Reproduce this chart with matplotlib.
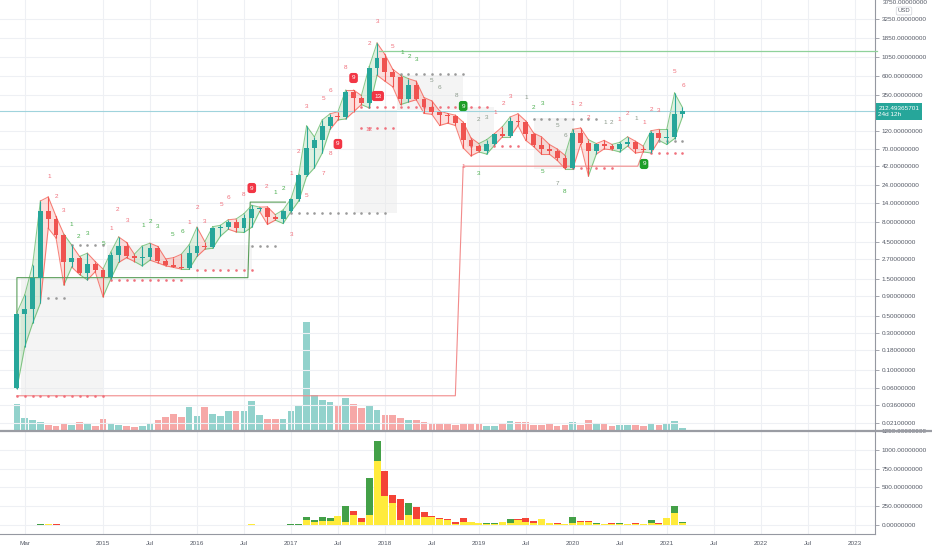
import matplotlib
matplotlib.use('Agg')
import matplotlib.pyplot as plt
import numpy as np
from matplotlib.ticker import FixedLocator, FuncFormatter, NullLocator
from matplotlib.transforms import blended_transform_factory
from matplotlib.patches import Rectangle
from matplotlib.lines import Line2D

plt.rcParams['font.family'] = ['Liberation Sans', 'DejaVu Sans']

# ---------------- data (monthly candles, Feb 2014 .. Mar 2021) ----------------
open_ = [0.059, 0.53, 0.61, 1.55, 11.1, 8.8, 5.4, 2.45, 2.77, 1.78,
         2.32, 1.94, 1.58, 3.03, 3.95, 2.94, 2.77, 2.86, 3.73, 2.54,
         2.26, 2.12, 2.06, 3.21, 3.95, 3.84, 6.74, 6.95, 8.05, 6.74,
         9.06, 11.8, 12.2, 9.33, 8.80, 11.15, 15.9, 32.4, 72, 91,
         138, 180, 178, 377, 316, 272, 768, 1033, 682, 588,
         307, 464, 307, 242, 208, 190, 185, 151, 91, 76,
         66, 81, 109, 103, 160, 155, 109, 78.5, 70, 66,
         53.5, 40.3, 112, 83.5, 66, 80, 76, 70, 80, 86,
         70, 68, 112, 97, 100, 197]
high = [0.55, 0.93, 2.25, 15.0, 16.9, 9.5, 5.6, 4.07, 2.9, 3.2,
        2.5, 2.0, 3.3, 5.17, 4.4, 3.1, 3.95, 4.3, 3.9, 2.7,
        2.8, 3.1, 4.1, 6.9, 4.5, 7.0, 7.3, 8.6, 8.8, 10.3,
        13.2, 12.5, 12.6, 10.0, 11.5, 16.0, 33, 138, 100, 165,
        198, 210, 400, 400, 340, 800, 1608, 1150, 740, 620,
        560, 520, 320, 290, 215, 200, 190, 155, 97, 82,
        92, 110, 135, 180, 198, 160, 112, 100, 80, 70,
        58, 125, 130, 92, 82, 90, 80, 85, 100, 88,
        76, 120, 125, 125, 366, 240]
low = [0.058, 0.2, 0.40, 0.73, 6.7, 5.0, 1.25, 2.12, 1.7, 1.45,
       1.85, 0.88, 1.5, 2.43, 2.8, 2.5, 2.2, 2.6, 2.4, 2.2,
       2.1, 2.0, 2.0, 2.9, 3.6, 3.7, 5.3, 6.5, 6.0, 5.9,
       6.9, 11.0, 7.5, 8.5, 7.7, 10.9, 15, 31, 40, 62,
       125, 165, 170, 210, 260, 235, 620, 520, 440, 260,
       280, 300, 200, 195, 140, 150, 140, 72, 57, 64,
       60, 78, 100, 100, 140, 90, 75, 60, 60, 50,
       39, 39, 80, 31.4, 60, 70, 68, 64, 76, 62,
       64, 62, 90, 80, 95, 180]
close = [0.53, 0.61, 1.55, 11.1, 8.8, 5.4, 2.45, 2.77, 1.78, 2.32,
         1.94, 1.58, 3.03, 3.95, 2.94, 2.77, 2.86, 3.73, 2.54, 2.26,
         2.12, 2.06, 3.21, 3.95, 3.84, 6.74, 6.95, 8.05, 6.74, 9.06,
         11.8, 12.2, 9.33, 8.80, 11.15, 15.9, 32.4, 72, 91, 138,
         180, 178, 377, 316, 272, 768, 1033, 682, 588, 307,
         464, 307, 242, 208, 190, 185, 151, 91, 76, 66,
         81, 109, 103, 160, 155, 109, 78.5, 70, 66, 53.5,
         40.3, 112, 83.5, 66, 80, 76, 70, 80, 86, 70,
         68, 112, 97, 100, 197, 212.49]
volume = [26, 12, 10, 8, 5, 4, 6, 5, 8, 6,
          4, 11, 6, 5, 4, 3, 4, 7, 10, 13,
          16, 13, 23, 14, 23, 16, 14, 19, 19, 19,
          29, 15, 11, 11, 11, 19, 25, 108, 35, 30,
          28, 24, 32, 26, 22, 25, 20, 15, 15, 12,
          10, 10, 8, 7, 7, 6, 5, 6, 7, 6,
          4, 4, 7, 9, 8, 8, 5, 5, 6, 4,
          5, 8, 5, 10, 7, 7, 4, 5, 5, 5,
          4, 6, 5, 7, 9, 2]
# lower pane: yellow base + coloured (red / green) part
lower_base = [3, 3, 3, 5, 12, 3, 3, 3, 3, 3,
              3, 3, 3, 3, 3, 3, 3, 3, 3, 3,
              3, 3, 3, 3, 3, 3, 3, 3, 3, 3,
              8, 3, 3, 3, 3, 5, 5, 67, 44, 53,
              53, 120, 44, 133, 44, 133, 857, 386, 289, 67,
              133, 75, 102, 102, 80, 67, 10, 44, 36, 22,
              18, 18, 44, 22, 67, 44, 22, 75, 22, 18,
              9, 31, 44, 44, 18, 18, 18, 18, 13, 18,
              13, 22, 18, 89, 164, 22]
lower_top = [0, 0, 0, 8, 0, 10, 0, 0, 0, 0,
             0, 0, 0, 0, 0, 0, 0, 0, 0, 0,
             0, 0, 0, 0, 0, 0, 0, 0, 0, 0,
             0, 0, 0, 0, 0, 8, 12, 35, 23, 49,
             40, 0, 209, 54, 45, 489, 262, 338, 111, 275,
             165, 169, 71, 22, 18, 13, 34, 54, 8, 9,
             13, 13, 0, 53, 17, 49, 31, 9, 0, 9,
             9, 76, 14, 14, 9, 0, 4, 4, 0, 13,
             0, 45, 9, 0, 94, 18]

tick_idx = [1, 11, 17, 23, 29, 35, 41, 47, 53, 59, 65, 71, 77, 83, 89, 95, 101, 107]
tick_lab = ['Mar', '2015', 'Jul', '2016', 'Jul', '2017', 'Jul', '2018', 'Jul', '2019',
            'Jul', '2020', 'Jul', '2021', 'Jul', '2022', 'Jul', '2023']
price_ticks = [0.021, 0.036, 0.06, 0.1, 0.18, 0.3, 0.5, 0.9, 1.5, 2.7, 4.5, 8, 14, 24,
               42, 70, 120, 350, 600, 1050, 1850, 3250]
lower_ticks = [0, 250, 500, 750, 1000, 1250]
last_price = 212.49365701

# TD sequential counts (month position, price position, text, colour r/g/k)
td_m = [4.1, 5.1, 5.9, 7.0, 7.9, 9.0, 11.0, 12.0, 12.9, 14.1, 16.1, 17.1, 18.0, 19.9, 21.1,
        22.0, 23.0, 24.0, 26.1, 27.0, 29.0, 31.9, 33.0, 34.0, 35.1, 35.1, 36.0, 37.0, 37.0,
        39.1, 39.1, 40.1, 40.1, 42.0, 45.0, 45.0, 46.1, 48.0, 49.2, 50.1, 51.1, 53.0, 54.0,
        56.1, 59.0, 60.0, 61.1, 62.1, 63.1, 65.0, 66.0, 67.1, 69.0, 70.0, 67.1, 69.0, 70.0,
        71.0, 72.0, 73.0, 75.1, 76.0, 77.0, 78.0, 79.1, 80.1, 81.0, 82.0, 84.0, 85.1, 57.0, 59.0]
td_p = [31.4, 16.9, 11.15, 7.58, 5.17, 5.81, 4.2, 6.55, 11.5, 8.53, 7.16, 8.29, 6.95, 5.48, 5.99,
        7.82, 12.5, 8.05, 13.7, 16.4, 18.4, 22.7, 19, 22, 5.64, 34.3, 63.9, 17.4, 249,
        34.3, 307, 60.3, 389, 768, 126, 1608, 2995, 1430, 1197, 1063, 973, 538, 425,
        345, 165, 175, 208, 272, 335, 316, 235, 265, 138, 103, 35.4, 24.8, 20.1,
        272, 257, 180, 155, 155, 165, 197, 170, 151, 228, 221, 682, 451, 42.2, 34.3]
td_t = ['1', '2', '3', '1', '2', '3', '5', '1', '2', '3', '1', '2', '3', '5', '6',
        '1', '2', '3', '5', '6', '8', '2', '1', '2', '3', '1', '2', '5', '3',
        '7', '5', '8', '6', '8', '12', '2', '3', '5', '1', '2', '3', '5', '6',
        '8', '2', '3', '1', '2', '3', '1', '2', '3', '5', '6', '5', '7', '8',
        '1', '2', '2', '1', '2', '1', '2', '1', '1', '2', '3', '5', '6', '1', '3']
td_c = ('r r r g g g g r r r g g g g g r r r r r r r g g r r r r r r r r r r r r r r '
        'g g g k k k k k r r r k g g k k g k g r r r k k r r k r r r r r r g').split()
box_m = [30.0, 41.0, 43.0, 46.1, 57.0, 80.1]
box_p = [22, 81, 571, 335, 249, 44.8]
box_t = ['9', '9', '9', '13', '9', '9']
box_c = ['r', 'r', 'r', 'r', 'g', 'g']

# shaded setup ranges (start month, end month, low, high)
zones = [(0.5, 11, 0.047, 1.55), (11.5, 30, 1.94, 4.1), (43, 48.5, 10.4, 221),
         (48.5, 57, 221, 624), (57.5, 61, 74, 242), (66, 71, 38.6, 175)]
# dotted TD levels (start, end, price, colour)
dots = [(7, 11, 4.07, 'k'), (4, 6, 0.85, 'k'), (0, 11, 0.047, 'r'), (12, 21, 1.45, 'r'),
        (23, 30, 1.94, 'r'), (30, 33, 3.95, 'k'), (34, 47, 10.4, 'k'), (44, 60, 242, 'r'),
        (49, 57, 650, 'k'), (44, 48, 130, 'r'), (58, 64, 76, 'r'), (66, 74, 170, 'k'),
        (71, 76, 40.3, 'r'), (81, 85, 62, 'r'), (81, 85, 88.5, 'k')]
green_level_m = [0, 0, 29.5, 29.8, 34.3]
green_level_p = [0.059, 1.55, 1.55, 14.5, 14.5]
red_level_m = [0, 56, 57, 79.3, 80.1]
red_level_p = [0.047, 0.047, 42, 42, 70]
top_level_m = [46.3, 109.9]
top_level_p = [1270, 1270]

# ---------------- styling ----------------
TEAL, RED = '#26a69a', '#ef5350'
GRID = '#eef0f4'
TXT = '#555a66'
COL = {'r': '#f0707c', 'g': '#4caf50', 'k': '#8c9a8c'}
FS = 4.6

W, H = 932, 550
fig = plt.figure(figsize=(W / 100, H / 100), dpi=100)
fig.patch.set_facecolor('white')
ax = fig.add_axes([0, 1 - 430 / H, 875 / W, 430 / H])
ax2 = fig.add_axes([0, 1 - 534 / H, 875 / W, 103 / H], sharex=ax)

n = len(close)
x = np.arange(n)
o = np.array(open_); c = np.array(close); hi = np.array(high); lo = np.array(low)
up = c >= o
cols = np.where(up, TEAL, RED)

ax.set_yscale('log')
ax.set_ylim(0.01707, 5743)
ax.set_xlim(-2.16, 109.6)

# volume overlay
axv = ax.twinx()
axv.set_ylim(0, 430)
axv.bar(x, volume, width=0.85, color=cols, alpha=0.5, linewidth=0)
axv.set_axis_off()
axv.set_zorder(0)
ax.set_zorder(1)
ax.patch.set_visible(False)

# grid
for t in price_ticks:
    ax.axhline(t, color=GRID, lw=0.8, zorder=0)
for t in tick_idx:
    ax.axvline(t, color=GRID, lw=0.8, zorder=0)
    ax2.axvline(t, color=GRID, lw=0.8, zorder=0)
for t in lower_ticks:
    ax2.axhline(t, color=GRID, lw=0.8, zorder=0)

# shaded zones
for (s, e, pl, ph) in zones:
    ax.add_patch(Rectangle((s, pl), e - s, ph - pl, facecolor='#e8e8e8', alpha=0.45,
                           edgecolor='none', zorder=1))

# high/low envelope
for i in range(n - 1):
    col = '#4caf50' if up[i + 1] else '#f44336'
    ax.fill_between(x[i:i + 2], lo[i:i + 2], hi[i:i + 2], color=col, alpha=0.17,
                    linewidth=0, zorder=2)
    ax.plot(x[i:i + 2], hi[i:i + 2], color=col, alpha=0.65, lw=0.75, zorder=2)
    ax.plot(x[i:i + 2], lo[i:i + 2], color=col, alpha=0.65, lw=0.75, zorder=2)

# levels
ax.plot(green_level_m, green_level_p, color='#5a9e5a', lw=0.8, zorder=3)
ax.plot(red_level_m, red_level_p, color='#f28b8b', lw=0.8, zorder=3)
ax.plot(top_level_m, top_level_p, color='#8fd19a', lw=0.9, zorder=3, clip_on=False)
for (s, e, p, cc) in dots:
    xs = np.arange(s, e + 1)
    ax.plot(xs, [p] * len(xs), ls='none', marker='s', ms=0.8,
            color='#f0707c' if cc == 'r' else '#9a9a9a', zorder=3)
ax.axhline(last_price, color='#9fd3dc', lw=0.8, zorder=3)

# candles
ax.vlines(x, lo, hi, color=cols, lw=0.8, zorder=4)
bot = np.minimum(o, c)
top = np.maximum(np.maximum(o, c), bot * 1.035)
ax.bar(x, top - bot, bottom=bot, width=0.62, color=cols, linewidth=0, zorder=5)

# TD labels
for m, p, t, cc in zip(td_m, td_p, td_t, td_c):
    ax.text(m, p, t, fontsize=FS, color=COL[cc], ha='center', va='center', zorder=6)
for m, p, t, cc in zip(box_m, box_p, box_t, box_c):
    fc = '#f23645' if cc == 'r' else '#1e9e28'
    ax.text(m, p, t, fontsize=FS, color='white', ha='center', va='center', zorder=7,
            bbox=dict(boxstyle='round,pad=0.4', fc=fc, ec='none'))

# axes styling (main)
ax.yaxis.tick_right()
ax.yaxis.set_major_locator(FixedLocator(price_ticks))
ax.yaxis.set_minor_locator(NullLocator())
ax.yaxis.set_major_formatter(FuncFormatter(lambda v, p: f'{v:.8f}'))
ax.tick_params(axis='y', length=3, width=0.6, color='#9598a1', labelsize=FS,
               labelcolor=TXT, pad=2)
ax.tick_params(axis='x', bottom=False, labelbottom=False)
ax.set_xticks(tick_idx)
for s in ['top', 'left']:
    ax.spines[s].set_visible(False)
ax.spines['right'].set_color('#9598a1'); ax.spines['right'].set_linewidth(0.8)
ax.spines['bottom'].set_visible(False)

# lower pane
lb = np.array(lower_base); lt = np.array(lower_top)
ax2.bar(x, lb, width=0.9, color='#ffeb3b', linewidth=0, zorder=2)
ax2.bar(x, lt, bottom=lb, width=0.9, color=np.where(up, '#43a047', '#f44336'),
        linewidth=0, zorder=2)
ax2.set_ylim(-120, 1253)
ax2.yaxis.tick_right()
ax2.yaxis.set_major_locator(FixedLocator(lower_ticks))
ax2.yaxis.set_major_formatter(FuncFormatter(lambda v, p: f'{v:.8f}'))
ax2.tick_params(axis='y', length=3, width=0.6, color='#9598a1', labelsize=FS,
                labelcolor=TXT, pad=2)
ax2.set_xticks(tick_idx)
ax2.set_xticklabels(tick_lab)
ax2.tick_params(axis='x', length=0, labelsize=FS, labelcolor=TXT, pad=5)
for s in ['top', 'left']:
    ax2.spines[s].set_visible(False)
for s in ['right', 'bottom']:
    ax2.spines[s].set_color('#9598a1'); ax2.spines[s].set_linewidth(0.8)

# pane separator
fig.add_artist(Line2D([0, 1], [1 - 430.5 / H] * 2, transform=fig.transFigure,
                      color='#9a9ca3', lw=1.6))

# price label + header
ax.text(1.004, last_price, '212.49365701\n24d 12h',
        transform=blended_transform_factory(ax.transAxes, ax.transData),
        fontsize=FS, color='white', ha='left', va='center', linespacing=1.15, zorder=10,
        bbox=dict(boxstyle='square,pad=0.45', fc=TEAL, ec='none'))
fig.text(883 / W, 1 - 0.5 / H, '3750.00000000', fontsize=FS, color=TXT, ha='left', va='top')
fig.text(904 / W, 1 - 11 / H, 'USD', fontsize=FS - 0.4, color=TXT, ha='center', va='center',
         bbox=dict(boxstyle='round,pad=0.25', fc='white', ec='#d0d3da', lw=0.5))

fig.savefig('out.png', dpi=100, facecolor='white')
